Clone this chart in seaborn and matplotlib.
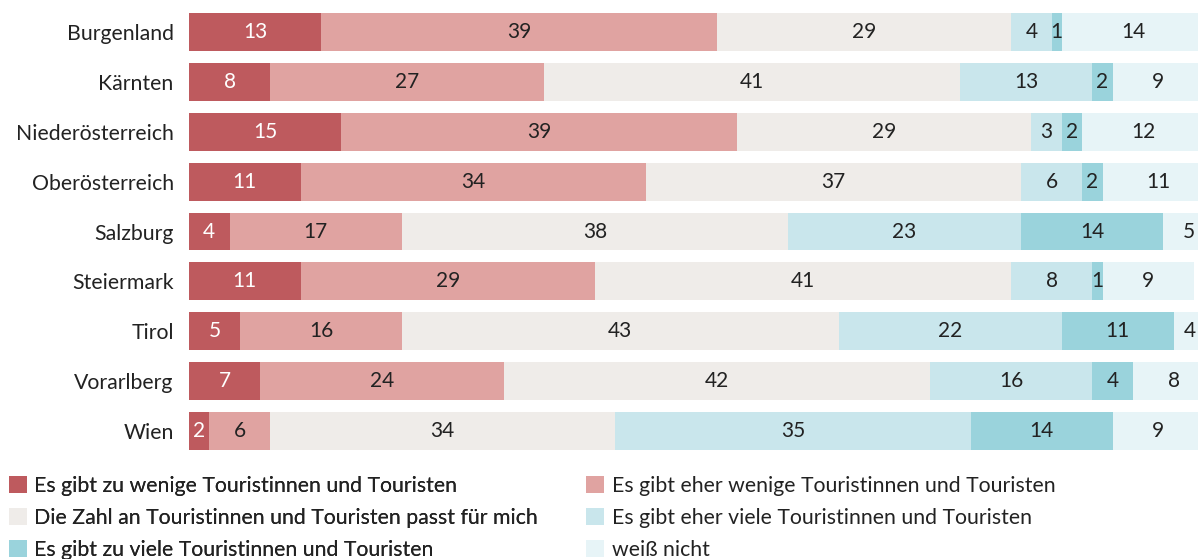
import matplotlib
matplotlib.use("Agg")
import matplotlib.pyplot as plt
import seaborn as sns
import pandas as pd
import numpy as np
from matplotlib.patches import Patch

regions = ["Burgenland", "Kärnten", "Niederösterreich", "Oberösterreich", "Salzburg",
           "Steiermark", "Tirol", "Vorarlberg", "Wien"]
categories = [
    "Es gibt zu wenige Touristinnen und Touristen",
    "Es gibt eher wenige Touristinnen und Touristen",
    "Die Zahl an Touristinnen und Touristen passt für mich",
    "Es gibt eher viele Touristinnen und Touristen",
    "Es gibt zu viele Touristinnen und Touristen",
    "weiß nicht",
]
zu_wenige    = [13, 8, 15, 11, 4, 11, 5, 7, 2]
eher_wenige  = [39, 27, 39, 34, 17, 29, 16, 24, 6]
passt        = [29, 41, 29, 37, 38, 41, 43, 42, 34]
eher_viele   = [4, 13, 3, 6, 23, 8, 22, 16, 35]
zu_viele     = [1, 2, 2, 2, 14, 1, 11, 4, 14]
weiss_nicht  = [14, 9, 12, 11, 5, 9, 4, 8, 9]

series = [zu_wenige, eher_wenige, passt, eher_viele, zu_viele, weiss_nicht]
colors = ["#BE5A5E", "#E0A3A1", "#EFECE9", "#C9E6EC", "#9AD3DC", "#E7F4F7"]
text_colors = ["white", "#222222", "#222222", "#222222", "#222222", "#222222"]

sns.set_theme(style="white")
plt.rcParams["font.family"] = ["Lato", "DejaVu Sans"]

fig = plt.figure(figsize=(11.98, 5.59), dpi=100)
W, H = 1198, 559
ax = fig.add_axes([189 / W, 1 - 456 / H, (1204 - 189) / W, (456 - 7) / H])

vals = np.array(series, dtype=float)
cum = np.cumsum(vals, axis=0)

# draw cumulative bars from longest to shortest
for i in range(len(series) - 1, -1, -1):
    df = pd.DataFrame({"region": regions, "value": cum[i]})
    sns.barplot(data=df, x="value", y="region", order=regions, color=colors[i],
                saturation=1, width=0.76, ax=ax, linewidth=0, orient="h")

# labels
for i in range(len(series)):
    for j, r in enumerate(regions):
        left = cum[i][j] - vals[i][j]
        center = min(left + vals[i][j] / 2, 98.6)
        ax.text(center, j, f"{int(vals[i][j])}", ha="center", va="center",
                color=text_colors[i], fontsize=15, clip_on=False)

ax.set_xlim(0, 100)
ax.set_ylim(8.5, -0.5)
ax.set_xlabel("")
ax.set_ylabel("")
ax.set_xticks([])
ax.tick_params(axis="y", length=0, pad=11, labelsize=15.3, labelcolor="#222222")
for s in ax.spines.values():
    s.set_visible(False)

handles = [Patch(facecolor=c, edgecolor="none") for c in colors]
common = dict(frameon=False, fontsize=15.3, handlelength=0.85, handleheight=0.85,
              handletextpad=0.35, labelspacing=0.56, borderpad=0, borderaxespad=0,
              labelcolor="#222222", loc="upper left")
leg1 = fig.legend([handles[0], handles[2], handles[4]], [categories[0], categories[2], categories[4]],
                  bbox_to_anchor=(9 / W, 1 - 476 / H), **common)
fig.add_artist(leg1)
leg2 = fig.legend([handles[1], handles[3], handles[5]], [categories[1], categories[3], categories[5]],
                  bbox_to_anchor=(586 / W, 1 - 476 / H), **common)

fig.savefig("out.png", dpi=100)
